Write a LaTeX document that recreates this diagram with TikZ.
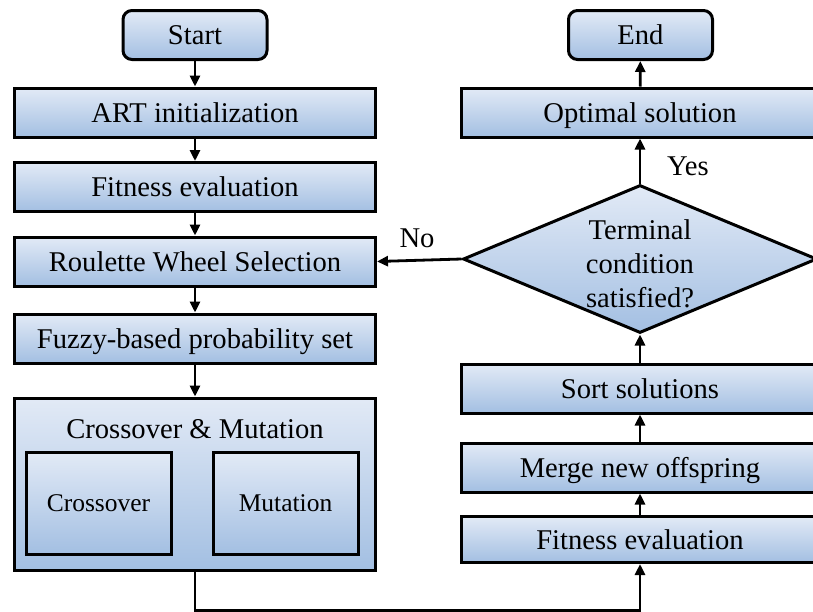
\documentclass[tikz,border=0pt]{standalone}
\usepackage{fontspec}
\setmainfont{Liberation Serif}
\usetikzlibrary{shapes.geometric,arrows.meta}
\definecolor{gtop}{HTML}{E2EAF6}
\definecolor{gmid}{HTML}{B6CBE8}
\definecolor{gbot}{HTML}{A3BFE2}
\tikzset{
  grad/.style={top color=gtop, middle color=gmid, bottom color=gbot},
  procbox/.style={draw=black, line width=3pt, grad, minimum width=361pt, minimum height=49pt, inner sep=0pt,
    font=\rmfamily\fontsize{28.6}{34}\selectfont, text height=19.5pt, text depth=0pt},
  rprocbox/.style={procbox, minimum width=358pt},
  termbox/.style={procbox, rounded corners=9pt, minimum width=144pt},
  innerbox/.style={draw=black, line width=3pt, grad, minimum width=145pt, minimum height=102pt, inner sep=0pt,
    font=\rmfamily\fontsize{25.5}{30}\selectfont, text height=17.5pt, text depth=0pt},
  decbox/.style={draw=black, line width=3pt, grad, shape=diamond, aspect=2.4, minimum width=354pt, minimum height=148pt,
    inner sep=0pt},
  arr/.style={line width=2.8pt, -{Triangle[length=11pt,width=10pt]}},
  lbl/.style={font=\rmfamily\fontsize{28.6}{34}\selectfont, inner sep=0pt}
}
\begin{document}
\begin{tikzpicture}[x=1pt,y=-1pt]
\clip (0,0) rectangle (813,611);
\fill[white] (0,0) rectangle (813,611);
% left column
\node[termbox] (start) at (195,35) {Start};
\node[procbox] (art) at (195,112.5) {ART initialization};
\node[procbox] (fit1) at (195,187) {Fitness evaluation};
\node[procbox] (rws) at (195,261.5) {Roulette Wheel Selection};
\node[procbox] (fuzzy) at (195,338.5) {Fuzzy-based probability set};
\node[procbox, minimum height=172pt] (cm) at (195,484) {};
\node[lbl] (cmtitle) at (195,429) {Crossover \& Mutation};
\node[innerbox] (cross) at (98.5,503) {Crossover};
\node[innerbox] (mut) at (285.5,503) {Mutation};
% right column
\node[termbox] (end) at (640.5,35) {End};
\node[rprocbox] (opt) at (640,112.5) {Optimal solution};
\node[decbox] (dec) at (640,259) {};
\node[lbl, align=center] (dectext) at (640,264) {Terminal\\condition\\satisfied?};
\node[rprocbox] (sort) at (640,388.5) {Sort solutions};
\node[rprocbox] (merge) at (640,467.5) {Merge new offspring};
\node[rprocbox, minimum height=46pt] (fit2) at (640,539.5) {Fitness evaluation};
% connectors
\draw[arr] (start) -- (art);
\draw[arr] (art) -- (fit1);
\draw[arr] (fit1) -- (rws);
\draw[arr] (rws) -- (fuzzy);
\draw[arr] (fuzzy) -- (cm);
\draw[arr] (cm.south) -- ++(0,39) -| (fit2.south);
\draw[arr] (fit2) -- (merge);
\draw[arr] (merge) -- (sort);
\draw[arr] (sort.north) -- (dec.south);
\draw[arr] (dec.north) -- (opt.south);
\draw[arr] (opt) -- (end);
\draw[arr] (dec.west) -- (rws.east);
\node[lbl] (no) at (417,238) {No};
\node[lbl] (yes) at (688,166) {Yes};
\end{tikzpicture}
\end{document}
